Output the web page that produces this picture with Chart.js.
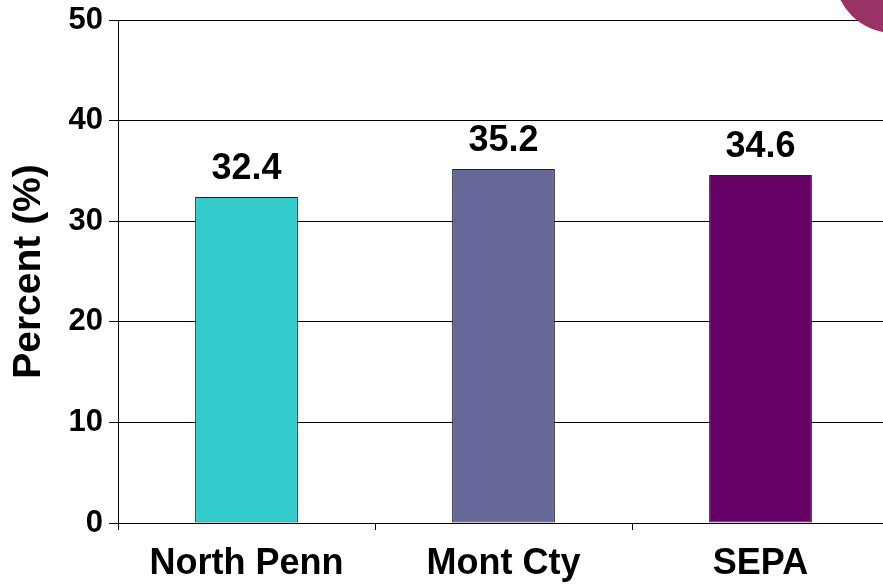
<!DOCTYPE html>
<html>
<head>
<meta charset="utf-8">
<script src="https://cdn.jsdelivr.net/npm/chart.js@4/dist/chart.umd.min.js"></script>
<style>
html,body{margin:0;padding:0;overflow:hidden;background:#fff;}
#wrap{width:892px;height:584px;position:relative;}
</style>
</head>
<body>
<div id="wrap"><canvas id="c"></canvas></div>
<script>
const categories = ["North Penn", "Mont Cty", "SEPA"];
const values = [32.4, 35.2, 34.6];
const barColors = ["#33CCCC", "#666699", "#660066"];
const yTicks = [0, 10, 20, 30, 40, 50];
const yTitle = "Percent (%)";

const FONT = "'Liberation Sans', Arial, sans-serif";

const labelPlugin = {
  id: 'labels',
  afterDatasetsDraw(chart) {
    const ctx = chart.ctx;
    const meta = chart.getDatasetMeta(0);
    ctx.save();
    ctx.font = "bold 36px " + FONT;
    ctx.fillStyle = "#000";
    ctx.textAlign = "center";
    ctx.textBaseline = "alphabetic";
    meta.data.forEach((bar, i) => {
      ctx.fillText(values[i].toFixed(1), bar.x, bar.y - 18);
    });
    ctx.restore();
  },
  afterDraw(chart) {
    const ctx = chart.ctx;
    ctx.save();
    ctx.beginPath();
    ctx.arc(894, -27, 60, 0, Math.PI * 2);
    ctx.fillStyle = "#993366";
    ctx.fill();
    ctx.restore();
  }
};

new Chart(document.getElementById('c'), {
  type: 'bar',
  data: {
    labels: categories,
    datasets: [{
      data: values,
      backgroundColor: barColors,
      borderColor: "#222",
      borderWidth: 1,
      borderSkipped: false,
      categoryPercentage: 1,
      barPercentage: 0.4
    }]
  },
  options: {
    responsive: true,
    maintainAspectRatio: false,
    animation: false,
    layout: { padding: { top: 20, left: 0, right: 3, bottom: 0 } },
    plugins: { legend: { display: false }, tooltip: { enabled: false } },
    scales: {
      x: {
        offset: true,
        grid: { display: true, offset: true, drawOnChartArea: false, drawTicks: true, tickLength: 7, color: "#000", lineWidth: 1 },
        border: { display: true, color: "#000", width: 1 },
        ticks: { color: "#000", font: { family: FONT, size: 36, weight: "bold" }, padding: 12 },
        afterFit(s) { s.height = 61; s.paddingLeft = 0; s.paddingRight = 0; }
      },
      y: {
        min: 0, max: 50,
        afterBuildTicks(s) { s.ticks = yTicks.map(v => ({ value: v })); },
        grid: { color: "#000", lineWidth: 1, drawTicks: true, tickLength: 9 },
        border: { display: true, color: "#000", width: 1 },
        ticks: { color: "#000", font: { family: FONT, size: 31, weight: "bold" }, padding: 6 },
        title: { display: true, text: yTitle, color: "#000", font: { family: FONT, size: 39, weight: "bold" }, padding: { top: 6, bottom: 0 } },
        afterFit(s) { s.width = 118; s.paddingTop = 0; s.paddingBottom = 0; }
      }
    }
  },
  plugins: [labelPlugin]
});
</script>
</body>
</html>
